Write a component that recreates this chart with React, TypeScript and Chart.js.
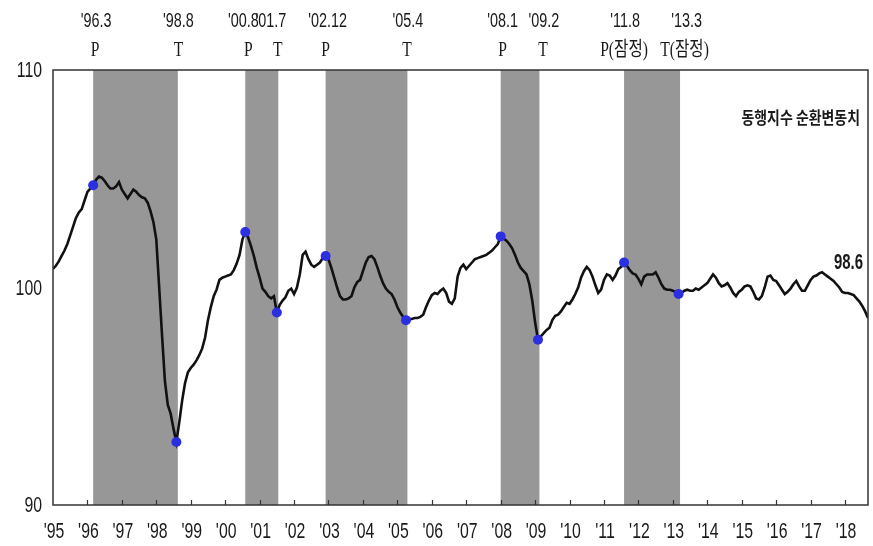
import React, { useEffect, useRef } from "react";
import { Chart, registerables } from "chart.js";

Chart.register(...registerables);

// 동행지수 순환변동치 (monthly, Jan of each year first)
const cci1995 = [100.85, 101.0, 101.2, 101.45, 101.7, 102.0, 102.4, 102.8, 103.2, 103.45, 103.6, 104.0];
const cci1996 = [104.4, 104.55, 104.7, 104.95, 105.1, 105.05, 104.9, 104.7, 104.55, 104.55, 104.65, 104.85];
const cci1997 = [104.5, 104.3, 104.1, 104.3, 104.5, 104.4, 104.25, 104.15, 104.1, 103.9, 103.5, 103.0];
const cci1998 = [102.2, 100.0, 97.8, 95.7, 94.6, 94.2, 93.5, 92.9, 93.8, 94.8, 95.6, 96.1];
const cci1999 = [96.3, 96.45, 96.65, 96.9, 97.2, 97.7, 98.5, 99.1, 99.6, 99.9, 100.35, 100.45];
const cci2000 = [100.5, 100.55, 100.6, 100.8, 101.1, 101.5, 102.2, 102.55, 102.3, 101.9, 101.45, 100.9];
const cci2001 = [100.45, 99.95, 99.8, 99.6, 99.5, 99.6, 98.85, 99.2, 99.4, 99.55, 99.85, 99.95];
const cci2002 = [99.7, 100.0, 100.6, 101.5, 101.65, 101.3, 101.05, 100.95, 101.05, 101.15, 101.35, 101.45];
const cci2003 = [101.3, 100.9, 100.45, 100.0, 99.6, 99.45, 99.45, 99.5, 99.6, 100.0, 100.25, 100.35];
const cci2004 = [100.75, 101.15, 101.4, 101.45, 101.3, 100.95, 100.55, 100.2, 99.95, 99.8, 99.7, 99.45];
const cci2005 = [99.1, 98.85, 98.65, 98.5, 98.55, 98.55, 98.6, 98.6, 98.65, 98.75, 99.1, 99.4];
const cci2006 = [99.65, 99.75, 99.7, 99.85, 99.95, 99.75, 99.35, 99.25, 99.5, 100.5, 100.9, 101.05];
const cci2007 = [100.85, 101.0, 101.15, 101.3, 101.35, 101.4, 101.45, 101.5, 101.6, 101.7, 101.85, 102.0];
const cci2008 = [102.35, 102.25, 102.15, 102.0, 101.8, 101.5, 101.15, 100.9, 100.75, 100.6, 100.15, 99.4];
const cci2009 = [98.4, 97.6, 97.75, 97.9, 98.05, 98.15, 98.5, 98.7, 98.75, 98.9, 99.1, 99.3];
const cci2010 = [99.25, 99.45, 99.7, 100.0, 100.45, 100.75, 100.95, 100.8, 100.5, 100.1, 99.75, 99.9];
const cci2011 = [100.35, 100.6, 100.55, 100.35, 100.55, 100.85, 100.95, 101.15, 101.0, 100.8, 100.65, 100.6];
const cci2012 = [100.4, 100.15, 100.5, 100.6, 100.6, 100.6, 100.7, 100.45, 100.15, 99.95, 99.9, 99.9];
const cci2013 = [99.85, 99.8, 99.7, 99.75, 99.85, 99.9, 99.85, 99.85, 99.95, 99.9, 100.0, 100.1];
const cci2014 = [100.2, 100.4, 100.6, 100.45, 100.2, 100.05, 100.1, 100.2, 100.0, 99.75, 99.6, 99.8];
const cci2015 = [99.9, 100.05, 100.1, 100.05, 99.8, 99.5, 99.45, 99.6, 100.0, 100.5, 100.55, 100.35];
const cci2016 = [100.3, 100.1, 99.9, 99.7, 99.8, 99.95, 100.15, 100.3, 100.05, 99.85, 99.85, 100.1];
const cci2017 = [100.35, 100.5, 100.55, 100.65, 100.7, 100.6, 100.5, 100.4, 100.3, 100.15, 100.0, 99.8];
const cci2018 = [99.75, 99.75, 99.7, 99.65, 99.5, 99.35, 99.15, 98.9, 98.6];

const seriesByYear = [
  cci1995, cci1996, cci1997, cci1998, cci1999, cci2000, cci2001, cci2002,
  cci2003, cci2004, cci2005, cci2006, cci2007, cci2008, cci2009, cci2010,
  cci2011, cci2012, cci2013, cci2014, cci2015, cci2016, cci2017, cci2018,
];
const firstYear = 1995;

// Turning points
const turningYears = [1996, 1998, 2000, 2001, 2002, 2005, 2008, 2009, 2011, 2013];
const turningMonths = [3, 8, 8, 7, 12, 4, 1, 2, 8, 3];
const turningLabels = ["'96.3", "'98.8", "'00.8", "'01.7", "'02.12", "'05.4", "'08.1", "'09.2", "'11.8", "'13.3"];
const turningTypes = ["P", "T", "P", "T", "P", "T", "P", "T", "P(잠정)", "T(잠정)"];

// Axis ticks
const yearTicks = Array.from({ length: 24 }, (_, i) => 1995 + i);
const yTicks = [90, 100, 110];
const seriesTitle = "동행지수 순환변동치";
const lastValueLabel = "98.6";

// style-only offsets of the top annotations (px)
const yearLabelDx = [3, 2, -2, -6, 2, 2, 2, 6, 1, 8];
const typeLabelDx = [2, 2, 3, 1, 0, 1, 2, 5, 0, 6];

const SHADE = "#979797";
const DOT = "#2b2fe0";
const TEXT = "#1a1a1a";
const SANS = '"Liberation Sans", Arial, sans-serif';

function monthToX(year: number, month: number) {
  return year + (month - 1) / 12;
}

export default function App() {
  const ref = useRef<HTMLCanvasElement | null>(null);

  useEffect(() => {
    const canvas = ref.current;
    if (!canvas) return;

    const linePoints: { x: number; y: number }[] = [];
    seriesByYear.forEach((vals, yi) => {
      vals.forEach((v, mi) => linePoints.push({ x: monthToX(firstYear + yi, mi + 1), y: v }));
    });
    const valueAt = (year: number, month: number) => seriesByYear[year - firstYear][month - 1];
    const dotPoints = turningYears.map((yr, i) => ({
      x: monthToX(yr, turningMonths[i]),
      y: valueAt(yr, turningMonths[i]),
    }));

    const drawText = (
      ctx: CanvasRenderingContext2D, text: string, x: number, y: number,
      font: string, sx: number, align: CanvasTextAlign,
    ) => {
      ctx.save();
      ctx.font = font;
      ctx.fillStyle = TEXT;
      ctx.textBaseline = "middle";
      ctx.textAlign = align;
      ctx.translate(x, y);
      ctx.scale(sx, 1);
      ctx.fillText(text, 0, 0);
      ctx.restore();
    };

    const plugin = {
      id: "cycleDecor",
      beforeDatasetsDraw(chart: any) {
        const { ctx, chartArea: a, scales } = chart;
        const xs = scales.x;
        ctx.save();
        ctx.fillStyle = SHADE;
        for (let i = 0; i + 1 < turningYears.length; i += 2) {
          const x0 = xs.getPixelForValue(monthToX(turningYears[i], turningMonths[i]));
          const x1 = xs.getPixelForValue(monthToX(turningYears[i + 1], turningMonths[i + 1]) + 0.5 / 12);
          ctx.fillRect(x0, a.top, x1 - x0, a.bottom - a.top);
        }
        ctx.restore();
      },
      afterDraw(chart: any) {
        const { ctx, chartArea: a, scales } = chart;
        const xs = scales.x;
        const ys = scales.y;
        ctx.save();
        // frame
        ctx.strokeStyle = "#333";
        ctx.lineWidth = 1.5;
        ctx.strokeRect(a.left, a.top, a.right - a.left, a.bottom - a.top);
        // inner tick marks
        ctx.lineWidth = 1.2;
        ctx.beginPath();
        xs.ticks.forEach((t: any) => {
          const px = Math.round(xs.getPixelForValue(t.value)) + 0.5;
          if (px <= a.left + 1) return;
          ctx.moveTo(px, a.bottom);
          ctx.lineTo(px, a.bottom - 5);
        });
        ctx.stroke();
        ctx.restore();

        // axis labels (condensed)
        xs.ticks.forEach((t: any) => {
          const px = xs.getPixelForValue(t.value);
          drawText(ctx, "'" + String(t.value).slice(2), px + 1, a.bottom + 27, `22px ${SANS}`, 0.72, "center");
        });
        ys.ticks.forEach((t: any) => {
          const py = ys.getPixelForValue(t.value);
          drawText(ctx, String(t.value), a.left - 11, py + 1, `22px ${SANS}`, 0.72, "right");
        });

        // turning point labels above the plot
        turningYears.forEach((yr, i) => {
          const px = xs.getPixelForValue(monthToX(yr, turningMonths[i]));
          drawText(ctx, turningLabels[i], px + yearLabelDx[i], 21, `20px ${SANS}`, 0.72, "center");
          drawText(ctx, turningTypes[i], px + typeLabelDx[i], 51,
            '20px "Liberation Serif", "Noto Sans CJK KR", serif', 0.78, "center");
        });

        // series title and latest value
        drawText(ctx, seriesTitle, a.right - 8, a.top + 48,
          'bold 17px "Noto Sans CJK KR", sans-serif', 0.82, "right");
        drawText(ctx, lastValueLabel, a.right - 5, a.top + 193, `bold 22px ${SANS}`, 0.68, "right");
      },
    };

    const chart = new Chart(canvas, {
      type: "line",
      data: {
        datasets: [
          {
            label: "turning points",
            data: dotPoints,
            showLine: false,
            pointRadius: 5,
            pointBackgroundColor: DOT,
            pointBorderWidth: 0,
            borderColor: DOT,
          },
          {
            label: seriesTitle,
            data: linePoints,
            borderColor: "#111",
            borderWidth: 2.6,
            pointRadius: 0,
            tension: 0,
            fill: false,
          },
        ],
      },
      options: {
        responsive: false,
        animation: false,
        layout: { padding: { left: 0, right: 5, top: 70, bottom: 0 } },
        plugins: { legend: { display: false }, tooltip: { enabled: false } },
        scales: {
          x: {
            type: "linear",
            min: 1995,
            max: 2018 + 8 / 12,
            afterBuildTicks: (s: any) => {
              s.ticks = yearTicks.map((v) => ({ value: v }));
            },
            afterFit: (s: any) => {
              s.height = 41;
            },
            ticks: { display: false },
            grid: { display: false, drawTicks: false },
            border: { display: false },
          },
          y: {
            min: 90,
            max: 110,
            afterBuildTicks: (s: any) => {
              s.ticks = yTicks.map((v) => ({ value: v }));
            },
            afterFit: (s: any) => {
              s.width = 53;
            },
            ticks: { display: false },
            grid: { display: false, drawTicks: false },
            border: { display: false },
          },
        },
      },
      plugins: [plugin],
    });
    return () => chart.destroy();
  }, []);

  return (
    <div style={{ position: "absolute", left: 0, top: 0, width: 873, height: 546, background: "#fff" }}>
      <canvas ref={ref} width={873} height={546} style={{ width: 873, height: 546, display: "block" }} />
    </div>
  );
}
